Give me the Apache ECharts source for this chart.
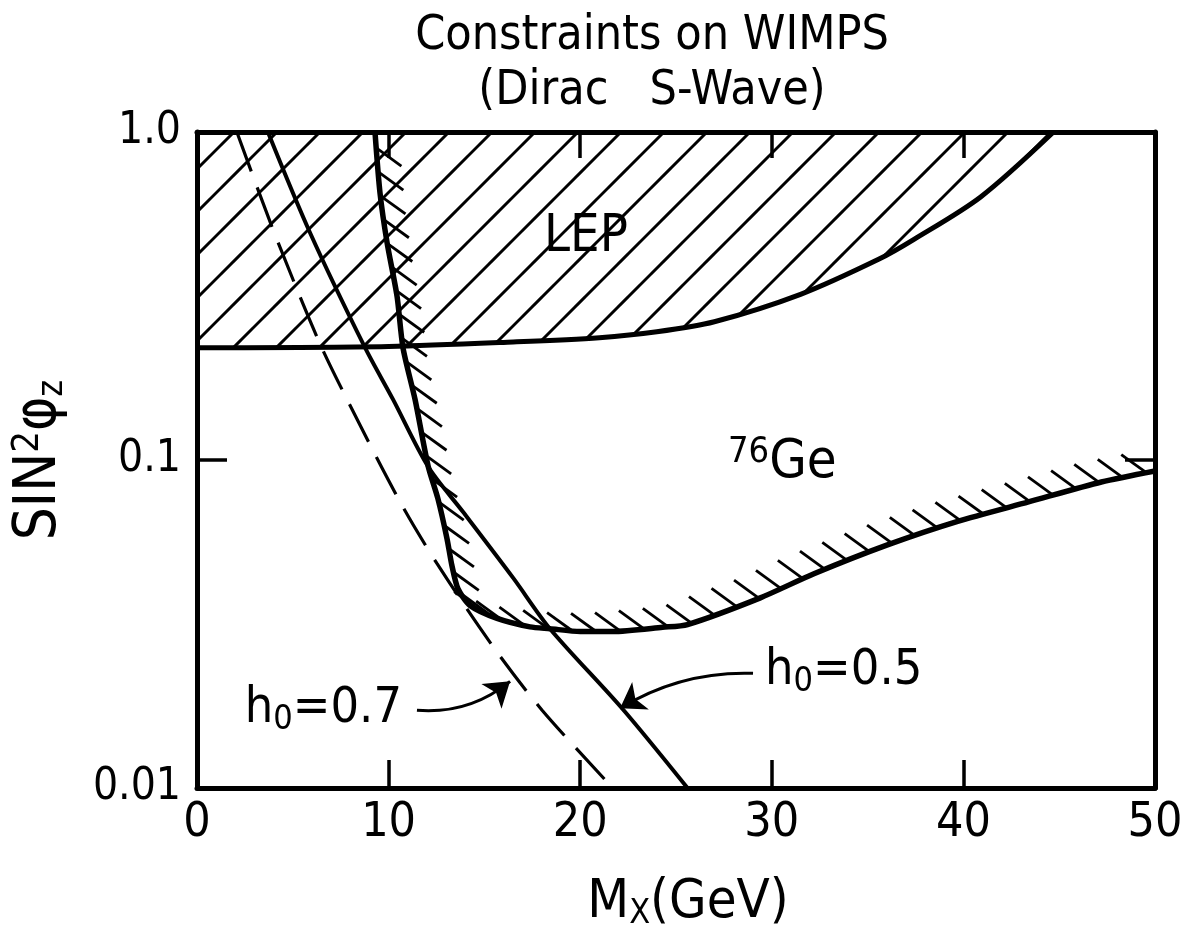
<!DOCTYPE html>
<html><head><meta charset="utf-8">
<script src="https://cdn.jsdelivr.net/npm/echarts@6.0.0/dist/echarts.min.js"></script>
<style>html,body{margin:0;padding:0;background:#fff}#c{width:1187px;height:941px}</style>
</head><body><div id="c"></div>
<script>
// ---------- data ----------
const xTickValues = [0, 10, 20, 30, 40, 50];
const xTickLabels = ['0', '10', '20', '30', '40', '50'];
const yTickLabels = ['0.01', '0.1', '1.0'];

// LEP exclusion boundary
const lepX = [0, 10, 16.5, 21, 24, 27, 31.5, 35.6, 37.4, 40.9, 44.7];
const lepY = [0.22, 0.222, 0.229, 0.236, 0.246, 0.264, 0.32, 0.41, 0.47, 0.634, 1.0];

// 76Ge exclusion boundary
const geX = [9.29, 9.55, 9.92, 10.44, 10.75, 11.38, 12.06, 12.58, 13.05, 13.3, 13.62, 14.25, 15.66, 17.38, 18.42, 20.0, 21.7, 24.3, 25.6, 29.4, 32.2, 36.0, 39.7, 43.4, 47.2, 50];
const geY = [1.0, 0.653, 0.46, 0.316, 0.22, 0.153, 0.096, 0.076, 0.0575, 0.0478, 0.0405, 0.036, 0.0329, 0.031, 0.0306, 0.030, 0.030, 0.0309, 0.0315, 0.038, 0.045, 0.055, 0.065, 0.0745, 0.0857, 0.0926];

// cosmological bound, h0 = 0.5 (solid)
const h05X = [3.7, 5.9, 8.77, 10.23, 12.06, 13.88, 16.5, 18.42, 22.18, 25.6];
const h05Y = [1.0, 0.493, 0.220, 0.153, 0.0955, 0.0695, 0.0437, 0.0306, 0.0175, 0.01];

// cosmological bound, h0 = 0.7 (dashed)
const h07X = [2.08, 3.97, 6.32, 7.83, 10.6, 12.53, 15.45, 18.0, 21.7];
const h07Y = [1.0, 0.504, 0.233, 0.153, 0.0745, 0.0483, 0.027, 0.0173, 0.01];

// annotation arrows (tail -> head), data coordinates
const arrow07From = [11.48, 0.01726], arrow07To = [16.34, 0.02115];
const arrow05From = [29.02, 0.02237], arrow05To = [22.08, 0.0175];

// ---------- drawing ----------
const FONT = "'Liberation Sans Narrow','DejaVu Sans Condensed','Roboto Condensed','Liberation Sans',sans-serif";
const pairs = (xs, ys) => xs.map((x, i) => [x, ys[i]]);

function hatchTile() {
  const s = 43, off = 22;
  const c = document.createElement('canvas');
  c.width = s; c.height = s;
  const g = c.getContext('2d');
  g.strokeStyle = '#000'; g.lineWidth = 3;
  for (let k = -1; k <= 2; k++) {
    const cc = off + k * s; // line x + y = cc
    g.beginPath();
    g.moveTo(-5, cc + 5);
    g.lineTo(s + 5, cc - s - 5);
    g.stroke();
  }
  return c;
}

function geHatch(params, api) {
  const P = geX.map((x, i) => api.coord([x, geY[i]]));
  const children = [];
  const S = 24, L = 31, ang = 36 * Math.PI / 180;
  const bd = [Math.cos(ang), Math.sin(ang)];
  let acc = 16;
  for (let i = 0; i < P.length - 1; i++) {
    const a = P[i], b = P[i + 1];
    const dx = b[0] - a[0], dy = b[1] - a[1];
    const len = Math.hypot(dx, dy);
    if (len < 1e-6) continue;
    const t = [dx / len, dy / len];
    const n = [t[1], -t[0]];
    const d = (bd[0] * n[0] + bd[1] * n[1]) >= 0 ? bd : [-bd[0], -bd[1]];
    let s = acc;
    while (s < len) {
      const px = a[0] + t[0] * s, py = a[1] + t[1] * s;
      children.push({ type: 'line', shape: { x1: px, y1: py, x2: px + d[0] * L, y2: py + d[1] * L },
        style: { stroke: '#000', lineWidth: 2.8 } });
      s += S;
    }
    acc = s - len;
  }
  return { type: 'group', children };
}

const axisLineStyle = { color: '#000', width: 5 };
const tickStyle = { color: '#000', width: 3.5 };

const chart = echarts.init(document.getElementById('c'));
const option = {
  animation: false,
  backgroundColor: '#fff',
  grid: { left: 197, right: 32, top: 132, bottom: 153 },
  xAxis: [
    { type: 'value', min: 0, max: 50, interval: 10, position: 'bottom',
      axisLine: { show: true, onZero: false, lineStyle: axisLineStyle },
      axisTick: { show: true, inside: true, length: 28, lineStyle: tickStyle },
      axisLabel: { color: '#000', fontSize: 48, fontFamily: FONT, margin: 12,
        formatter: v => xTickLabels[xTickValues.indexOf(Math.round(v))] },
      splitLine: { show: false } },
    { type: 'value', min: 0, max: 50, interval: 10, position: 'top',
      axisLine: { show: true, onZero: false, lineStyle: axisLineStyle },
      axisTick: { show: true, inside: true, length: 26, lineStyle: tickStyle },
      axisLabel: { show: false }, splitLine: { show: false } }
  ],
  yAxis: [
    { type: 'log', logBase: 10, min: 0.01, max: 1, position: 'left',
      axisLine: { show: true, onZero: false, lineStyle: axisLineStyle },
      axisTick: { show: true, inside: true, length: 30, lineStyle: tickStyle },
      minorTick: { show: false },
      axisLabel: { color: '#000', fontSize: 44, fontFamily: FONT, margin: 16,
        formatter: v => yTickLabels[Math.round(Math.log10(v)) + 2] },
      splitLine: { show: false } },
    { type: 'log', logBase: 10, min: 0.01, max: 1, position: 'right',
      axisLine: { show: true, onZero: false, lineStyle: axisLineStyle },
      axisTick: { show: true, inside: true, length: 30, lineStyle: tickStyle },
      minorTick: { show: false },
      axisLabel: { show: false }, splitLine: { show: false } }
  ],
  series: [
    { name: 'LEP', type: 'line', data: pairs(lepX, lepY), symbol: 'none', smooth: 0.3, z: 2,
      lineStyle: { color: '#000', width: 5 },
      areaStyle: { origin: 'end', opacity: 1, color: { image: hatchTile(), repeat: 'repeat' } } },
    { name: 'Ge', type: 'line', data: pairs(geX, geY), symbol: 'none', smooth: 0.25, z: 4,
      lineStyle: { color: '#000', width: 5.5 } },
    { name: 'GeHatch', type: 'custom', data: [[25, 0.1]], renderItem: geHatch, z: 3, silent: true },
    { name: 'h0=0.5', type: 'line', data: pairs(h05X, h05Y), symbol: 'none', smooth: 0.3, z: 4,
      lineStyle: { color: '#000', width: 4 } },
    { name: 'h0=0.7', type: 'line', data: pairs(h07X, h07Y), symbol: 'none', smooth: 0.3, z: 4,
      lineStyle: { color: '#000', width: 3.2, type: [42, 17] } },
    { name: 'arrows', type: 'lines', coordinateSystem: 'cartesian2d', z: 5,
      symbol: ['none', 'arrow'], symbolSize: [16, 24],
      lineStyle: { color: '#000', width: 3, opacity: 1 },
      data: [
        { coords: [arrow07From, arrow07To], lineStyle: { curveness: -0.2 } },
        { coords: [arrow05From, arrow05To], lineStyle: { curveness: -0.15 } }
      ] }
  ]
};
chart.setOption(option);

const px = p => chart.convertToPixel({ xAxisIndex: 0, yAxisIndex: 0 }, p);
const main = { fontSize: 50, lineHeight: 56, verticalAlign: 'middle', fontFamily: FONT, fill: '#000' };
const subS = { fontSize: 34, lineHeight: 34, padding: [50, 0, 0, 0], verticalAlign: 'bottom', fontFamily: FONT, fill: '#000' };
const supS = { fontSize: 36, lineHeight: 36, padding: [0, 0, 44, 0], verticalAlign: 'top', fontFamily: FONT, fill: '#000' };

const pLEP = px([20.3, 0.476]);
const pGe = px([27.71, 0.0979]);
const p05 = px([29.65, 0.0227]);
const p07 = px([10.7, 0.01738]);

chart.setOption({
  graphic: [
    { type: 'text', z: 10, style: { text: 'Constraints on WIMPS', x: 652, y: 37, align: 'center', verticalAlign: 'middle',
        font: '48px ' + FONT, fill: '#000' } },
    { type: 'text', z: 10, style: { text: '(Dirac   S-Wave)', x: 652, y: 92, align: 'center', verticalAlign: 'middle',
        font: '48px ' + FONT, fill: '#000' } },
    { type: 'text', z: 10, style: { text: '{m|M}{sub|X}{m|(GeV)}', x: 688, y: 903, align: 'center', verticalAlign: 'middle',
        rich: { m: Object.assign({}, main, { fontSize: 54 }), sub: Object.assign({}, subS, { fontSize: 34, padding: [46, 0, 0, 0] }) } } },
    { type: 'text', z: 10, x: 40, y: 460, rotation: Math.PI / 2,
      style: { text: '{m|SIN}{sup|2}{m|φ}{sub|z}', x: 0, y: 0, align: 'center', verticalAlign: 'middle',
        rich: { m: Object.assign({}, main, { fontSize: 58, lineHeight: 62 }),
                sup: Object.assign({}, supS, { fontSize: 38, lineHeight: 38, padding: [0, 0, 42, 0] }),
                sub: Object.assign({}, subS, { fontSize: 36, lineHeight: 36, padding: [44, 0, 0, 0] }) } } },
    { type: 'text', z: 10, style: { text: 'LEP', x: pLEP[0], y: pLEP[1], align: 'center', verticalAlign: 'middle',
        font: '52px ' + FONT, fill: '#000' } },
    { type: 'text', z: 10, style: { text: '{s|76}{b|Ge}', x: pGe[0], y: pGe[1], align: 'left', verticalAlign: 'middle',
        rich: { s: supS, b: Object.assign({}, main, { fontSize: 54 }) } } },
    { type: 'text', z: 10, style: { text: '{b|h}{sub|0}{b|=0.5}', x: p05[0], y: p05[1], align: 'left', verticalAlign: 'middle',
        rich: { b: main, sub: subS } } },
    { type: 'text', z: 10, style: { text: '{b|h}{sub|0}{b|=0.7}', x: p07[0], y: p07[1], align: 'right', verticalAlign: 'middle',
        rich: { b: main, sub: Object.assign({}, subS, { padding: [46, 0, 0, 0] }) } } }
  ]
});
</script>
</body></html>
